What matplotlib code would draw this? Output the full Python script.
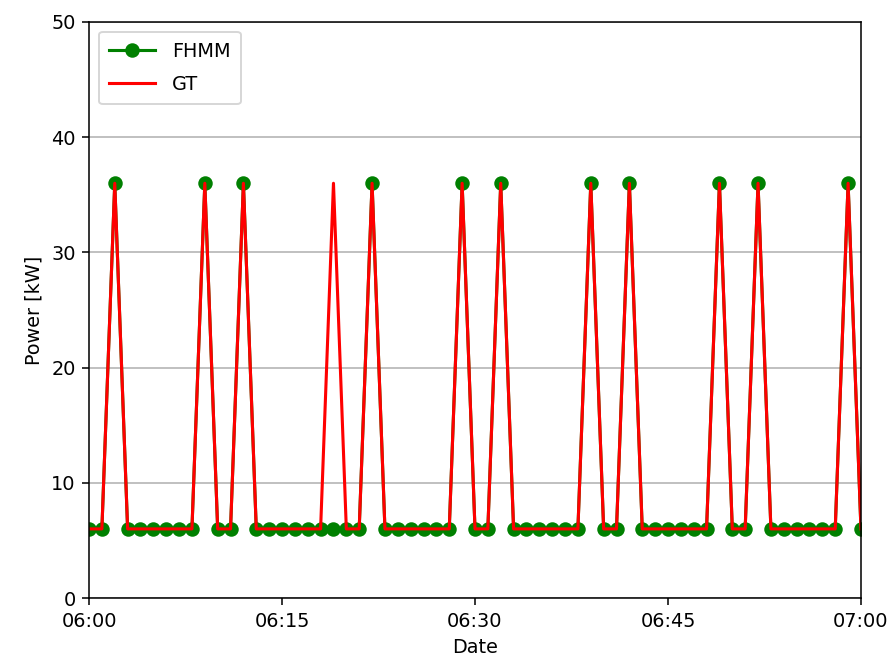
import numpy as np
import pandas as pd
import matplotlib
matplotlib.use("Agg")
from matplotlib import pyplot as plt
import matplotlib.dates as mdates

# one sample per minute, 06:00 .. 07:00
times = pd.date_range("2017-01-01 06:00", "2017-01-01 07:00", freq="1min")
base_kw = 6
peak_kw = 36
fhmm_peaks = [2, 9, 12, 22, 29, 32, 39, 42, 49, 52, 59]
gt_peaks = [2, 9, 12, 19, 22, 29, 32, 39, 42, 49, 52, 59]

fhmm = np.full(len(times), base_kw, dtype=float)
fhmm[fhmm_peaks] = peak_kw
gt = np.full(len(times), base_kw, dtype=float)
gt[gt_peaks] = peak_kw

dpi = 139
fig, ax = plt.subplots(figsize=(892 / dpi, 660 / dpi), dpi=dpi)
ax.plot(times, fhmm, color="green", marker="o", markersize=6.5, linewidth=1.6, label="FHMM")
ax.plot(times, gt, color="red", linewidth=1.6, label="GT")

ax.set_xlim(times[0], times[-1])
ax.set_ylim(0, 50)
ax.xaxis.set_major_locator(mdates.MinuteLocator(byminute=[0, 15, 30, 45]))
ax.xaxis.set_major_formatter(mdates.DateFormatter("%H:%M"))
ax.grid(axis="y")
ax.set_xlabel("Date")
ax.set_ylabel("Power [kW]")
ax.legend(loc="upper left", handlelength=2.35, handletextpad=0.9,
          labelspacing=0.7, borderpad=0.55)

plt.subplots_adjust(left=0.0998, right=0.9652, top=0.9667, bottom=0.0939)
plt.savefig("out.png", dpi=dpi)
plt.close()
